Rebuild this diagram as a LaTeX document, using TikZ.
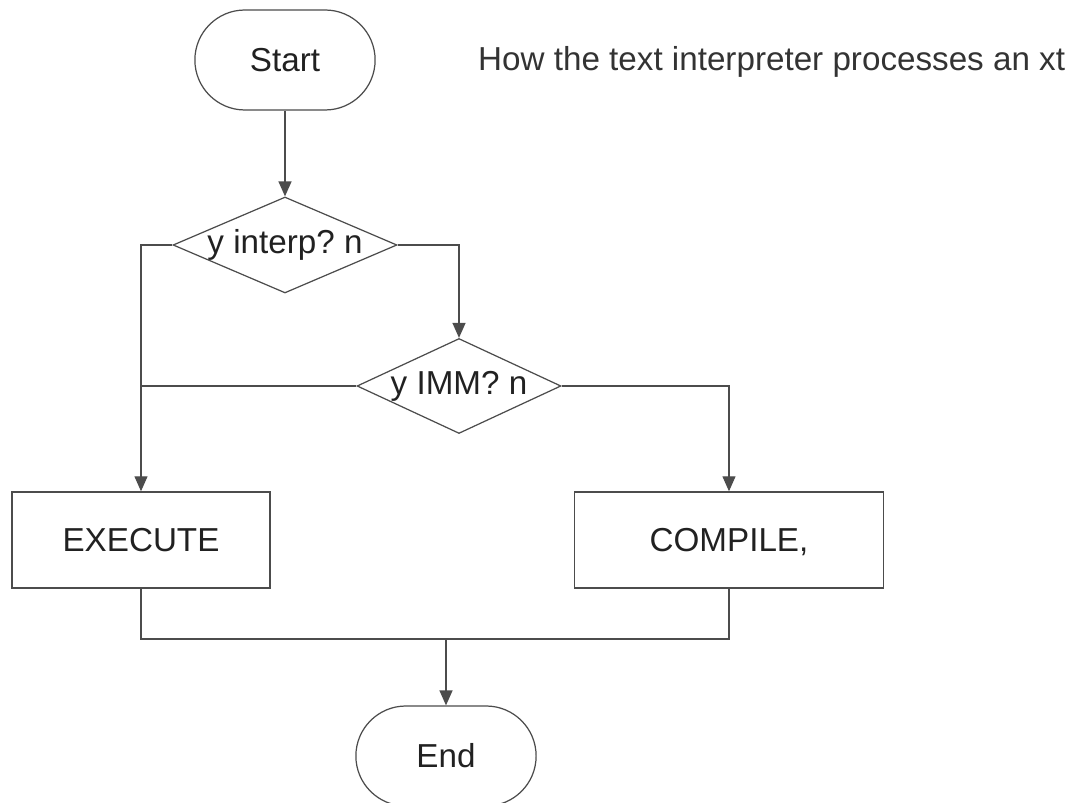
\documentclass[tikz,border=0pt]{standalone}
\usepackage{fontspec}
\setmainfont{Liberation Sans}
\usetikzlibrary{arrows.meta,shapes.geometric,shapes.misc,positioning,calc}
\definecolor{linegray}{rgb}{0.3,0.3,0.3}
\definecolor{textgray}{rgb}{0.13,0.13,0.13}
\tikzstyle{startstop} = [rounded rectangle, minimum width=3.84cm, minimum height=2cm, draw=linegray, line width=0.7pt]
\tikzstyle{decision} = [diamond, inner sep=0pt, draw=linegray, line width=0.7pt]
\tikzstyle{process} = [rectangle, minimum height=1.92cm, text depth=0pt, draw=linegray, line width=0.8pt]
\tikzstyle{arrow} = [line width=0.7pt, draw=linegray, -{Triangle[length=0.3cm,width=0.26cm]}]
\tikzstyle{line} = [line width=0.7pt, draw=linegray]
\begin{document}
\frenchspacing
\begin{tikzpicture}[x=0.02cm,y=-0.02cm,font=\fontsize{18.9}{22}\selectfont,text=textgray]
\useasboundingbox (0,0) rectangle (1076,803);
\node (start) [startstop] at (285,60) {Start};
\node (title) [anchor=west,text=black!80] at (472,62) {How the text interpreter processes an xt};
\node (interp) [decision, minimum width=4.48cm, minimum height=1.92cm] at (285,245) {};
\node (interptxt) at (interp) {y interp? n};
\node (imm) [decision, minimum width=4.08cm, minimum height=1.9cm] at (459,386) {};
\node (immtxt) at (imm) {y IMM? n};
\node (exec) [process, minimum width=5.16cm] at (141,540) {EXECUTE};
\node (comp) [process, minimum width=6.18cm] at (729,540) {COMPILE,};
\node (end) [startstop] at (446,756) {End};
\coordinate (merge) at (446,639);
%
\draw [arrow] (start.south) -- (interp.north);
\draw [arrow] (interp.west) -| (exec.north);
\draw [arrow] (interp.east) -| (imm.north);
\draw [line] (imm.west) -- (imm.west -| exec.north);
\draw [arrow] (imm.east) -| (comp.north);
\draw [line] (exec.south) |- (merge) -| (comp.south);
\draw [arrow] (merge) -- (end.north);
\end{tikzpicture}
\end{document}
